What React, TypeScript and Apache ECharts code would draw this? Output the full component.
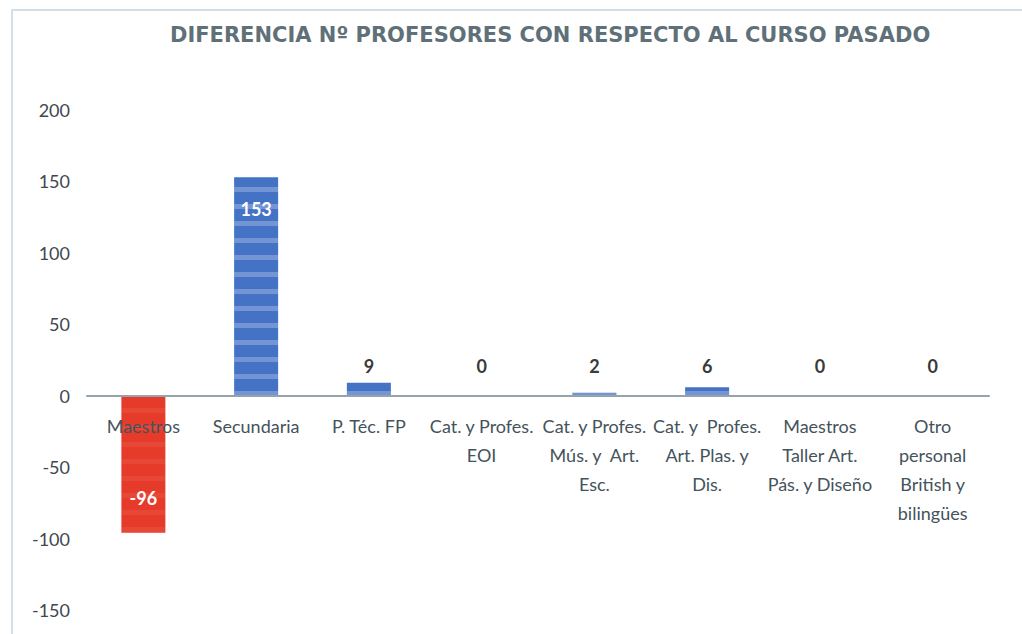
import React, { useEffect, useRef } from "react";
import * as echarts from "echarts";

const categories = [
  "Maestros",
  "Secundaria",
  "P. Téc. FP",
  "Cat. y Profes.\nEOI",
  "Cat. y Profes.\nMús. y  Art.\nEsc.",
  "Cat. y  Profes.\nArt. Plas. y\nDis.",
  "Maestros\nTaller Art.\nPás. y Diseño",
  "Otro\npersonal\nBritish y\nbilingües",
];
const values = [-96, 153, 9, 0, 2, 6, 0, 0];
const yTicks = { min: -150, max: 200, interval: 50 };
const title = "DIFERENCIA Nº PROFESORES CON RESPECTO AL CURSO PASADO";

const BLUE = "#4472C4";
const RED = "#E63B2B";

const GRID_TOP = 110;
const GRID_BOTTOM = 24;
const HEIGHT = 634;

export default function App() {
  const ref = useRef<HTMLDivElement>(null);
  useEffect(() => {
    document.body.style.margin = "0";
    const chart = echarts.init(ref.current!, null, { renderer: "svg" });
    const plotH = HEIGHT - GRID_TOP - GRID_BOTTOM;
    const zeroOffset = -((0 - yTicks.min) / (yTicks.max - yTicks.min)) * plotH;
    const data = values.map((v) => {
      const isNeg = v < 0;
      const isBig = v > 50;
      return {
        value: v,
        itemStyle: {
          color: isNeg ? RED : BLUE,
          decal: {
            symbol: "rect",
            symbolSize: 1,
            dashArrayX: [1, 0],
            dashArrayY: [5, 12],
            rotation: 0,
            color: isNeg ? "rgba(255,255,255,0.06)" : "rgba(255,255,255,0.25)",
          },
        },
        label: isNeg
          ? { position: "insideBottom", distance: 26, color: "#ffffff" }
          : isBig
          ? { position: "insideTop", distance: 23, color: "#ffffff" }
          : { position: "top", distance: Math.max(5, 21 - v * 1.43), color: "#3A3A3A" },
      };
    });
    chart.setOption({
      animation: false,
      backgroundColor: "#ffffff",
      title: {
        text: title,
        left: 165,
        top: 19,
        textStyle: {
          fontFamily: "DejaVu Sans",
          fontWeight: "bold",
          fontSize: 21,
          color: "#5F7078",
        },
      },
      graphic: [
        {
          type: "rect",
          shape: { x: 12, y: 10, width: 1100, height: 700 },
          style: { fill: "none", stroke: "#D3DFE8", lineWidth: 2 },
          silent: true,
        },
      ],
      grid: {
        left: 87,
        right: 33,
        top: GRID_TOP,
        bottom: GRID_BOTTOM,
        containLabel: false,
        outerBoundsMode: "none",
      },
      xAxis: {
        type: "category",
        data: categories,
        z: 5,
        offset: zeroOffset,
        axisLine: { onZero: false, lineStyle: { color: "#95A4AC", width: 2 } },
        axisTick: { show: false },
        axisLabel: {
          interval: 0,
          margin: 16,
          fontFamily: "Lato",
          fontSize: 18,
          lineHeight: 29,
          color: "#44535C",
          align: "center",
        },
      },
      yAxis: {
        type: "value",
        min: yTicks.min,
        max: yTicks.max,
        interval: yTicks.interval,
        splitLine: { show: false },
        axisLine: { show: false },
        axisTick: { show: false },
        axisLabel: {
          margin: 17,
          fontFamily: "Lato",
          fontSize: 18,
          color: "#3F4850",
        },
      },
      series: [
        {
          type: "bar",
          data,
          barWidth: 44,
          label: {
            show: true,
            fontFamily: "Lato",
            fontWeight: "bold",
            fontSize: 18,
          },
        },
      ],
    });
    return () => chart.dispose();
  }, []);
  return <div ref={ref} style={{ width: 1022, height: 634 }} />;
}
